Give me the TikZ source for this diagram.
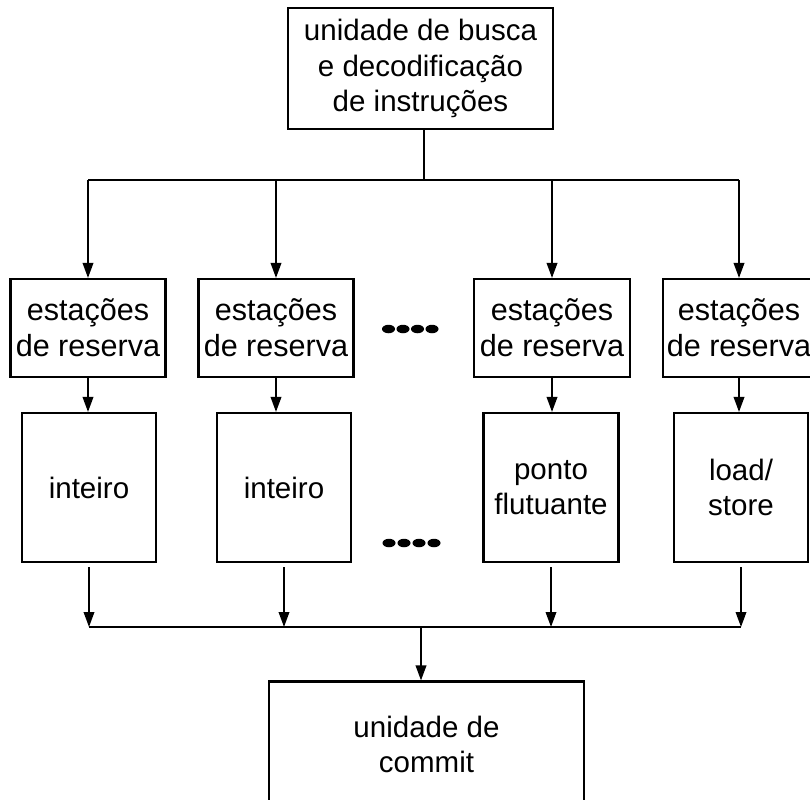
\documentclass[tikz,border=0pt]{standalone}
\usepackage{fontspec}
\setmainfont{Liberation Sans}
\usetikzlibrary{arrows.meta}
\begin{document}
\begin{tikzpicture}[x=0.02cm,y=-0.02cm,
  box/.style={draw, line width=1.2pt, align=center, inner sep=0pt,
    font=\fontsize{16.8}{20}\selectfont},
  stbox/.style={box, font=\fontsize{17.4}{20.5}\selectfont},
  conn/.style={line width=1.1pt},
  arr/.style={conn, -{Triangle[length=0.3cm,width=0.21cm]}},
  dot/.style={fill=black}]
\useasboundingbox (0,0) rectangle (810,799);
% top
\node[box, minimum width=5.3cm, minimum height=2.42cm] (top) at (420.5,68.5)
  {unidade de busca\\e decodificação\\de instruções};
% stations
\node[stbox, minimum width=3.1cm, minimum height=1.96cm] (s1) at (88,328) {estações\\de reserva};
\node[stbox, minimum width=3.1cm, minimum height=1.96cm] (s2) at (276,328) {estações\\de reserva};
\node[stbox, minimum width=3.12cm, minimum height=1.96cm] (s3) at (552,328) {estações\\de reserva};
\node[stbox, minimum width=3.04cm, minimum height=1.96cm] (s4) at (739,328) {estações\\de reserva};
% units
\node[box, minimum width=2.68cm, minimum height=2.98cm] (u1) at (89,487.5) {inteiro};
\node[box, minimum width=2.68cm, minimum height=2.98cm] (u2) at (284,487.5) {inteiro};
\node[box, minimum width=2.7cm, minimum height=2.98cm] (u3) at (551,487.5) {ponto\\flutuante};
\node[box, minimum width=2.68cm, minimum height=2.98cm] (u4) at (741,487.5) {load/\\store};
% commit
\node[box, minimum width=6.3cm, minimum height=2.5cm, text depth=0pt] (bot) at (426.5,744) {unidade de\\commit};
% top distribution
\coordinate (tb) at (424,180);
\draw[conn] (top.south -| tb) -- (tb);
\draw[conn] (s1.north |- tb) -- (s4.north |- tb);
\foreach \s in {s1,s2,s3,s4}
  \draw[arr] (\s.north |- tb) -- (\s.north);
% station -> unit
\foreach \s/\u in {s1/u1,s2/u2,s3/u3,s4/u4}
  \draw[arr] (\s.south) -- (\s.south |- \u.north);
% units -> bus
\coordinate (b2) at (421,627);
\foreach \s/\u in {s1/u1,s2/u2,s3/u3,s4/u4}
  \draw[arr, shorten <=0.08cm] (\u.south) -- (\u.south |- b2);
\draw[conn] (u1.south |- b2) -- (u4.south |- b2);
\draw[arr] (b2) -- (b2 |- bot.north);
% ellipsis marks
\foreach \i in {0,...,3} {
  \fill[dot] (388.5+\i*14.5,329) ellipse [x radius=0.13cm, y radius=0.085cm];
  \fill[dot] (389+\i*15,543) ellipse [x radius=0.13cm, y radius=0.085cm];
}
\end{tikzpicture}
\end{document}
